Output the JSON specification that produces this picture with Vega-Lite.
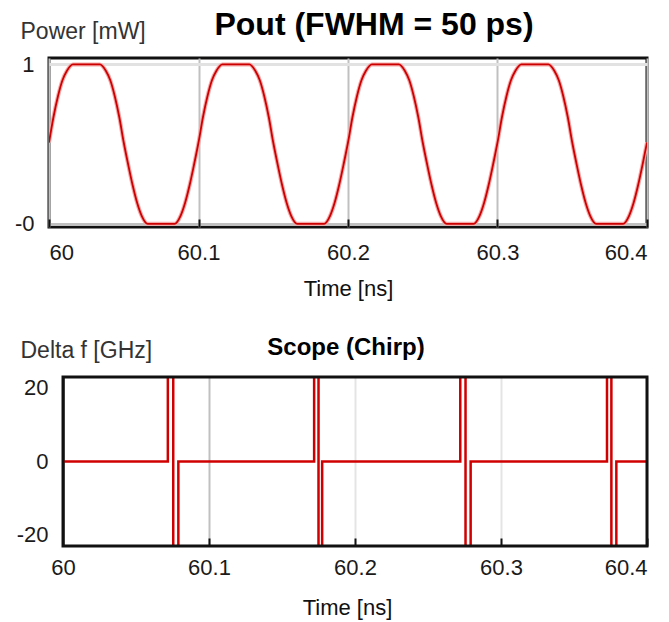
{
  "$schema": "https://vega.github.io/schema/vega-lite/v6.json",
  "background": "white",
  "padding": {"left": 12, "top": 7, "right": 0, "bottom": 4},
  "autosize": {"type": "pad"},
  "config": {
    "font": "Liberation Sans",
    "axis": {"labelFont": "Liberation Sans", "titleFont": "Liberation Sans", "labelFontSize": 22, "titleFontSize": 22, "labelColor": "#1a1a1a", "titleColor": "#111111", "titleFontWeight": "normal"},
    "title": {"font": "Liberation Sans", "color": "#000000"}
  },
  "datasets": {
    "power": [
      {"t": 60.000, "p": 0.51}, {"t": 60.003, "p": 0.67}, {"t": 60.006, "p": 0.80}, {"t": 60.009, "p": 0.90}, {"t": 60.012, "p": 0.96}, {"t": 60.016, "p": 1.0},
      {"t": 60.034, "p": 1.0}, {"t": 60.038, "p": 0.96}, {"t": 60.041, "p": 0.90}, {"t": 60.044, "p": 0.80}, {"t": 60.047, "p": 0.67}, {"t": 60.050, "p": 0.51},
      {"t": 60.053, "p": 0.37}, {"t": 60.056, "p": 0.24}, {"t": 60.059, "p": 0.13}, {"t": 60.062, "p": 0.05}, {"t": 60.066, "p": 0.0},
      {"t": 60.084, "p": 0.0}, {"t": 60.088, "p": 0.05}, {"t": 60.091, "p": 0.13}, {"t": 60.094, "p": 0.24}, {"t": 60.097, "p": 0.37},
      {"t": 60.100, "p": 0.51}, {"t": 60.103, "p": 0.67}, {"t": 60.106, "p": 0.80}, {"t": 60.109, "p": 0.90}, {"t": 60.112, "p": 0.96}, {"t": 60.116, "p": 1.0},
      {"t": 60.134, "p": 1.0}, {"t": 60.138, "p": 0.96}, {"t": 60.141, "p": 0.90}, {"t": 60.144, "p": 0.80}, {"t": 60.147, "p": 0.67}, {"t": 60.150, "p": 0.51},
      {"t": 60.153, "p": 0.37}, {"t": 60.156, "p": 0.24}, {"t": 60.159, "p": 0.13}, {"t": 60.162, "p": 0.05}, {"t": 60.166, "p": 0.0},
      {"t": 60.184, "p": 0.0}, {"t": 60.188, "p": 0.05}, {"t": 60.191, "p": 0.13}, {"t": 60.194, "p": 0.24}, {"t": 60.197, "p": 0.37},
      {"t": 60.200, "p": 0.51}, {"t": 60.203, "p": 0.67}, {"t": 60.206, "p": 0.80}, {"t": 60.209, "p": 0.90}, {"t": 60.212, "p": 0.96}, {"t": 60.216, "p": 1.0},
      {"t": 60.234, "p": 1.0}, {"t": 60.238, "p": 0.96}, {"t": 60.241, "p": 0.90}, {"t": 60.244, "p": 0.80}, {"t": 60.247, "p": 0.67}, {"t": 60.250, "p": 0.51},
      {"t": 60.253, "p": 0.37}, {"t": 60.256, "p": 0.24}, {"t": 60.259, "p": 0.13}, {"t": 60.262, "p": 0.05}, {"t": 60.266, "p": 0.0},
      {"t": 60.284, "p": 0.0}, {"t": 60.288, "p": 0.05}, {"t": 60.291, "p": 0.13}, {"t": 60.294, "p": 0.24}, {"t": 60.297, "p": 0.37},
      {"t": 60.300, "p": 0.51}, {"t": 60.303, "p": 0.67}, {"t": 60.306, "p": 0.80}, {"t": 60.309, "p": 0.90}, {"t": 60.312, "p": 0.96}, {"t": 60.316, "p": 1.0},
      {"t": 60.334, "p": 1.0}, {"t": 60.338, "p": 0.96}, {"t": 60.341, "p": 0.90}, {"t": 60.344, "p": 0.80}, {"t": 60.347, "p": 0.67}, {"t": 60.350, "p": 0.51},
      {"t": 60.353, "p": 0.37}, {"t": 60.356, "p": 0.24}, {"t": 60.359, "p": 0.13}, {"t": 60.362, "p": 0.05}, {"t": 60.366, "p": 0.0},
      {"t": 60.384, "p": 0.0}, {"t": 60.388, "p": 0.05}, {"t": 60.391, "p": 0.13}, {"t": 60.394, "p": 0.24}, {"t": 60.397, "p": 0.37},
      {"t": 60.400, "p": 0.51}
    ],
    "chirp": [
      {"n": 1, "t": 60.0, "f": 0},
      {"n": 2, "t": 60.0718, "f": 0}, {"n": 3, "t": 60.0718, "f": 60}, {"n": 4, "t": 60.0755, "f": 60}, {"n": 5, "t": 60.0755, "f": -60}, {"n": 6, "t": 60.079, "f": -60}, {"n": 7, "t": 60.079, "f": 0},
      {"n": 8, "t": 60.172, "f": 0}, {"n": 9, "t": 60.172, "f": 60}, {"n": 10, "t": 60.175, "f": 60}, {"n": 11, "t": 60.175, "f": -60}, {"n": 12, "t": 60.1775, "f": -60}, {"n": 13, "t": 60.1775, "f": 0},
      {"n": 14, "t": 60.2721, "f": 0}, {"n": 15, "t": 60.2721, "f": 60}, {"n": 16, "t": 60.2757, "f": 60}, {"n": 17, "t": 60.2757, "f": -60}, {"n": 18, "t": 60.2792, "f": -60}, {"n": 19, "t": 60.2792, "f": 0},
      {"n": 20, "t": 60.3726, "f": 0}, {"n": 21, "t": 60.3726, "f": 60}, {"n": 22, "t": 60.3756, "f": 60}, {"n": 23, "t": 60.3756, "f": -60}, {"n": 24, "t": 60.379, "f": -60}, {"n": 25, "t": 60.379, "f": 0},
      {"n": 26, "t": 60.4, "f": 0}
    ],
    "frame": [{"t0": 60, "t1": 60.4, "f0": -20, "f1": 20}]
  },
  "columns": 1,
  "spacing": 35,
  "concat": [
    {
      "width": 598,
      "height": 169,
      "view": {"stroke": "#111111", "strokeWidth": 3},
      "title": {"text": "Pout (FWHM = 50 ps)", "fontSize": 32, "fontWeight": "bold", "anchor": "middle", "frame": "group", "dx": 26, "offset": -22},
      "data": {"name": "power"},
      "encoding": {
        "x": {
          "field": "t", "type": "quantitative",
          "scale": {"domain": [60, 60.4], "nice": false, "zero": false},
          "axis": {"title": "Time [ns]", "values": [60, 60.1, 60.2, 60.3, 60.4], "format": "~g", "grid": true, "gridColor": "#c0c0c0", "gridWidth": 2, "domain": false, "ticks": true, "tickSize": -8, "tickColor": "#111111", "tickWidth": 2, "labelPadding": 23, "titlePadding": 15}
        },
        "y": {
          "field": "p", "type": "quantitative",
          "scale": {"domain": [-0.02, 1.04], "nice": false, "zero": false},
          "axis": {"title": "Power [mW]", "values": [0, 1], "labelExpr": "datum.value == 0 ? '-0' : '1'", "grid": true, "gridColor": {"condition": {"test": "datum.value == 0", "value": "#c0c0c0"}, "value": "#e2e2e2"}, "gridWidth": 3, "ticks": false, "domain": false, "labelPadding": 15, "titleAngle": 0, "titleAlign": "left", "titleBaseline": "alphabetic", "titleX": -29, "titleY": -20, "titleFontSize": 23, "titleColor": "#333333"}
        }
      },
      "layer": [
        {"mark": {"type": "line", "color": "#f5a8a8", "strokeWidth": 4, "interpolate": "monotone", "clip": true}},
        {"mark": {"type": "line", "color": "#cc0000", "strokeWidth": 1.8, "interpolate": "monotone", "clip": true}}
      ]
    },
    {
      "width": 598,
      "height": 169,
      "view": {"stroke": null},
      "title": {"text": "Scope (Chirp)", "fontSize": 24, "fontWeight": "bold", "anchor": "middle", "frame": "group", "dx": -2, "offset": -21},
      "layer": [
        {
          "data": {"name": "chirp"},
          "mark": {"type": "line", "color": "#d00000", "strokeWidth": 2.5, "clip": true},
          "encoding": {
            "x": {
              "field": "t", "type": "quantitative",
              "scale": {"domain": [59.9904, 60.4], "nice": false, "zero": false},
              "axis": {"title": "Time [ns]", "values": [60, 60.1, 60.2, 60.3, 60.4], "format": "~g", "grid": true, "gridColor": {"condition": {"test": "datum.value == 60.1", "value": "#c0c0c0"}, "value": "#e4e4e4"}, "gridWidth": 2, "domain": false, "ticks": true, "tickSize": -8, "tickColor": "#111111", "tickWidth": 2, "labelPadding": 19, "titlePadding": 19, "titleX": 298, "titleAlign": "center"}
            },
            "y": {
              "field": "f", "type": "quantitative",
              "scale": {"domain": [-20, 20], "nice": false, "zero": false},
              "axis": {"title": "Delta f [GHz]", "values": [-20, 0, 20], "labelExpr": "datum.value < 0 ? '-20' : datum.value > 0 ? '20' : '0'", "labelFlush": true, "grid": false, "ticks": false, "domain": true, "domainColor": "#707070", "domainWidth": 3, "offset": -14, "labelPadding": 15, "titleAngle": 0, "titleAlign": "left", "titleBaseline": "alphabetic", "titleX": -43, "titleY": -20, "titleFontSize": 23, "titleColor": "#333333"}
            },
            "order": {"field": "n", "type": "quantitative"}
          }
        },
        {
          "data": {"name": "frame"},
          "mark": {"type": "rect", "fill": "transparent", "stroke": "#111111", "strokeWidth": 3},
          "encoding": {
            "x": {"field": "t0", "type": "quantitative"},
            "x2": {"field": "t1"},
            "y": {"field": "f0", "type": "quantitative"},
            "y2": {"field": "f1"}
          }
        }
      ]
    }
  ]
}
